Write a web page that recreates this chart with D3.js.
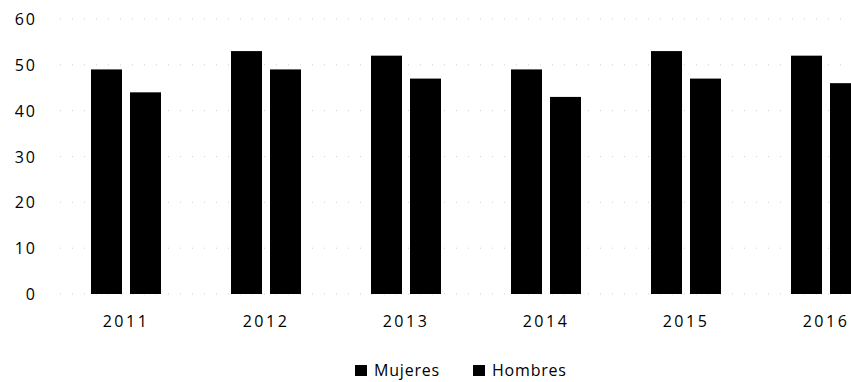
<!DOCTYPE html>
<html><head><meta charset="utf-8">
<script src="https://cdn.jsdelivr.net/npm/d3@7/dist/d3.min.js"></script>
<style>body{margin:0;background:#fff}svg{display:block}text{font-family:"Open Sans",Lato,sans-serif;fill:#000}</style>
</head><body>
<script>
const years = ["2011","2012","2013","2014","2015","2016"];
const seriesNames = ["Mujeres","Hombres"];
const mujeres = [49,53,52,49,53,52];
const hombres = [44,49,47,43,47,46];
const yTicks = [0,10,20,30,40,50,60];

const W=851,H=382;
const svg=d3.select("body").append("svg").attr("width",W).attr("height",H);
const x=d3.scaleBand().domain(years).range([56,896]).paddingInner(0).paddingOuter(0);
const y=d3.scaleLinear().domain([0,60]).range([294,19]);
const xs=d3.scaleBand().domain(seriesNames).range([0,70]).paddingInner(0.205);

// gridlines faint
svg.append("g").selectAll("line").data(yTicks).join("line")
  .attr("x1",60).attr("x2",W).attr("y1",d=>y(d)).attr("y2",d=>y(d))
  .attr("stroke","#cfcfcf").attr("stroke-width",1).attr("stroke-dasharray","1,11");

const yAxis=d3.axisLeft(y).tickValues(yTicks).tickSize(0).tickPadding(0);
const gy=svg.append("g").attr("transform","translate(37,0)").call(yAxis);
gy.select(".domain").remove();
gy.selectAll("text").style("font-size","16px").style("letter-spacing","2px").attr("dy","0.35em");

const data=years.map((yr,i)=>({yr,vals:[{s:"Mujeres",v:mujeres[i]},{s:"Hombres",v:hombres[i]}]}));
const g=svg.append("g").selectAll("g").data(data).join("g")
  .attr("transform",d=>`translate(${x(d.yr)+x.bandwidth()/2-35},0)`);
g.selectAll("rect").data(d=>d.vals).join("rect")
  .attr("x",d=>xs(d.s)).attr("width",xs.bandwidth())
  .attr("y",d=>y(d.v)).attr("height",d=>y(0)-y(d.v))
  .attr("fill","#000");

const xAxis=d3.axisBottom(x).tickSize(0).tickPadding(0);
const gx=svg.append("g").attr("transform","translate(0,316)").call(xAxis);
gx.select(".domain").remove();
gx.selectAll("text").style("font-size","16px").style("letter-spacing","2.5px").attr("dy","0.71em");

const leg=svg.append("g");
const lx=[355,473];
seriesNames.forEach((s,i)=>{
  leg.append("rect").attr("x",lx[i]).attr("y",365).attr("width",12).attr("height",11).attr("fill","#000");
  leg.append("text").attr("x",lx[i]+19).attr("y",376).style("font-size","16px").style("letter-spacing","0.8px").text(s);
});
</script>
</body></html>
